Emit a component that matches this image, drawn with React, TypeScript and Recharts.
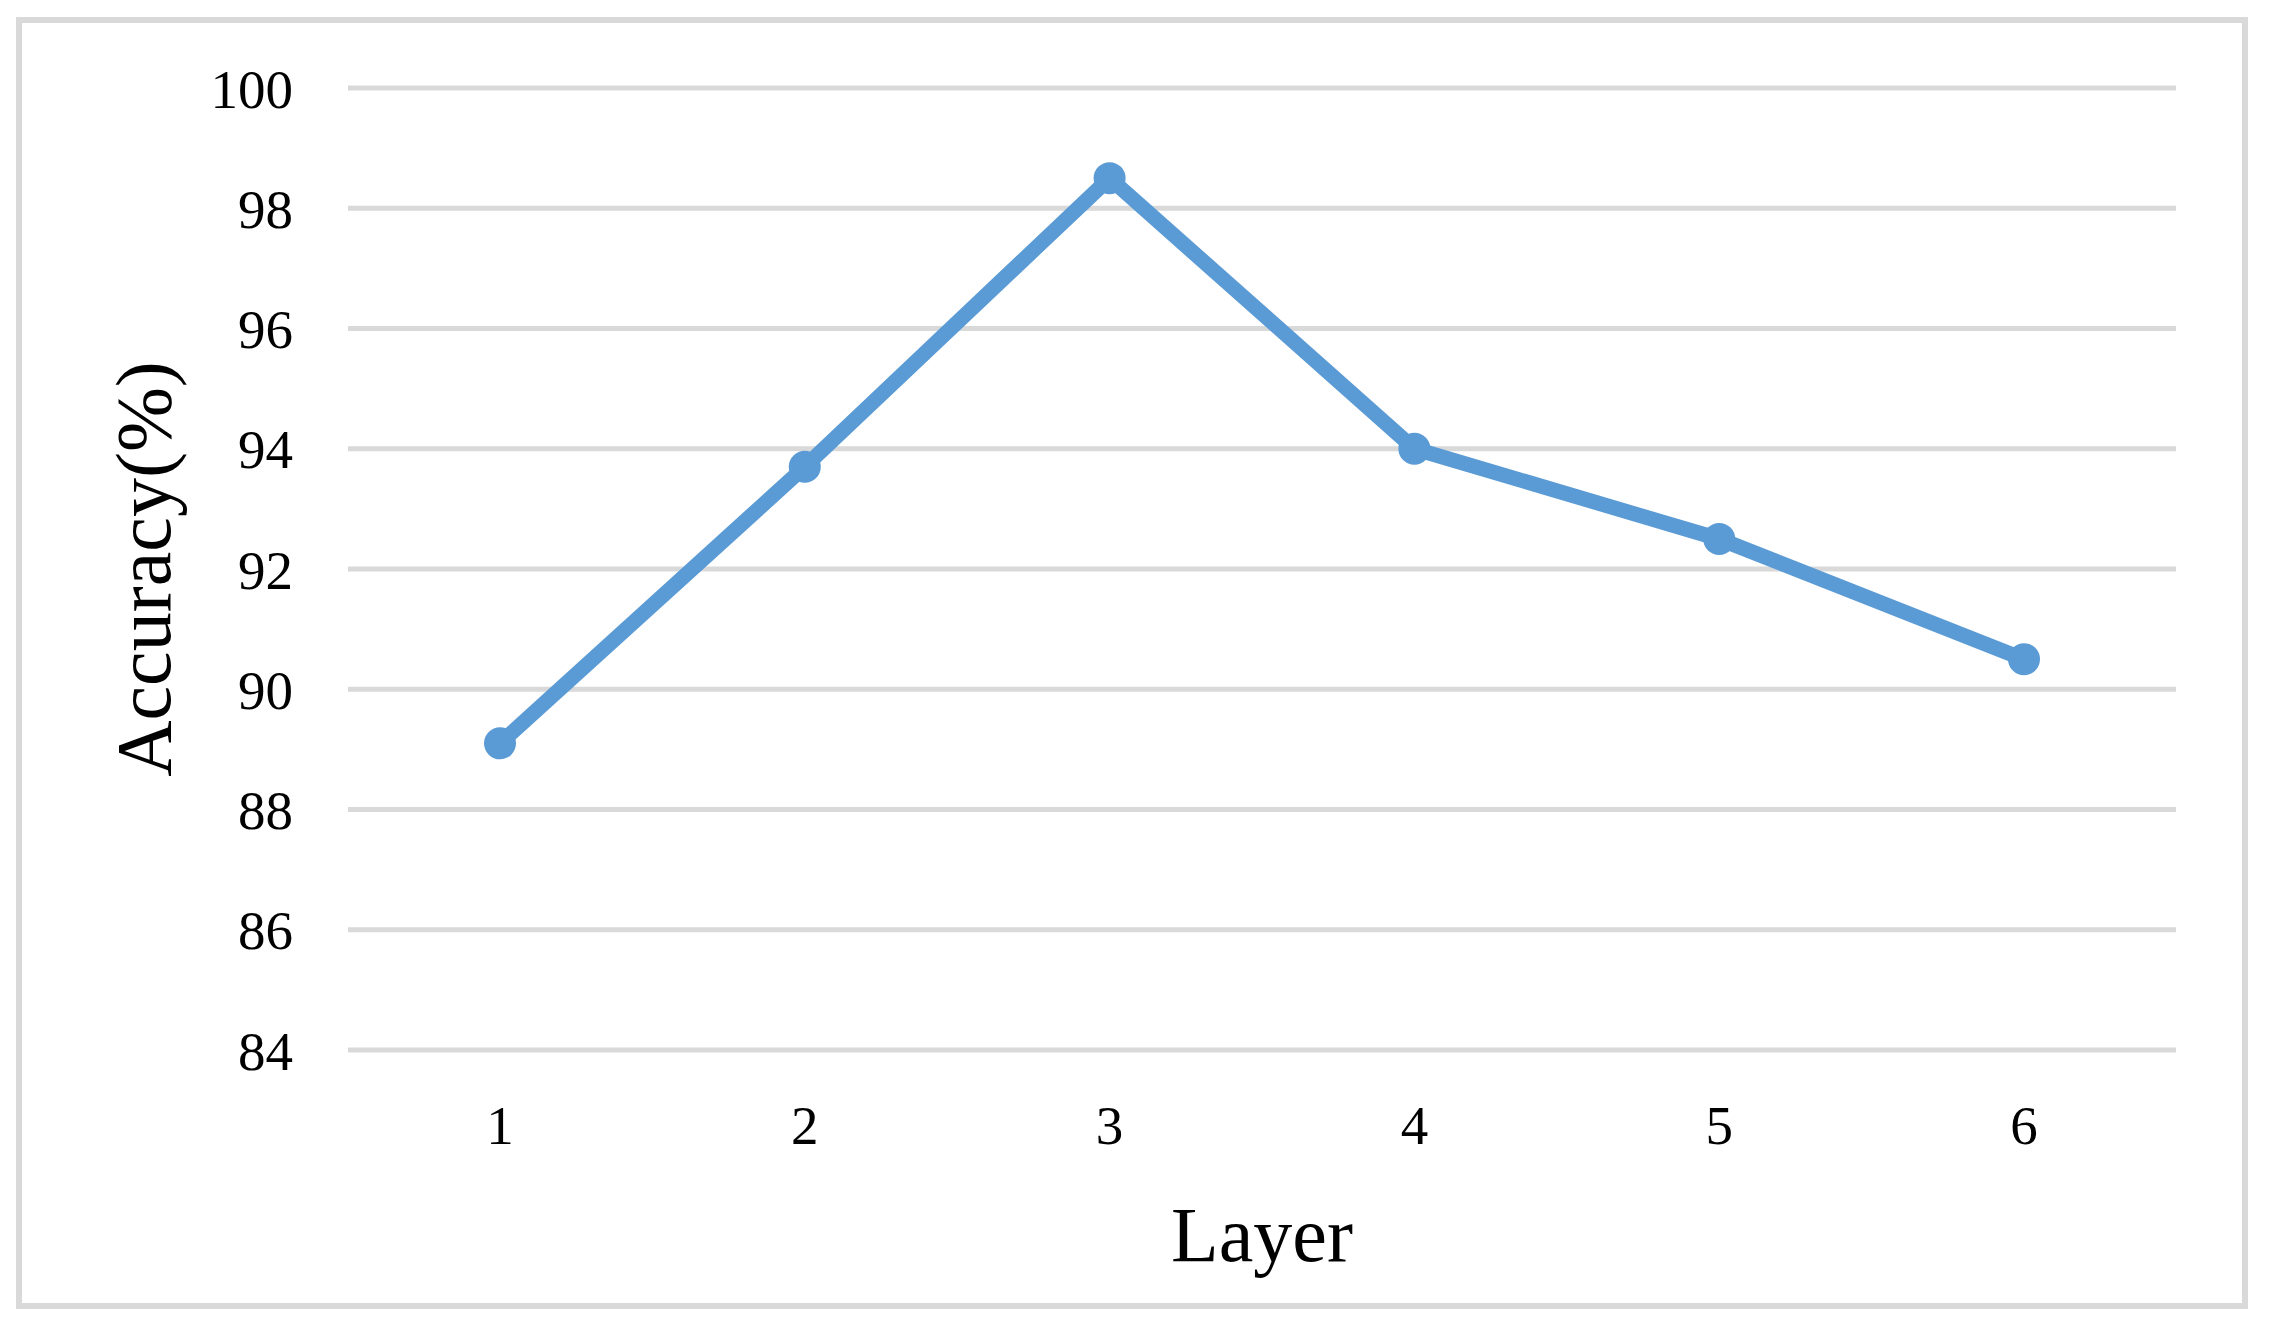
import React from 'react';
import {
  LineChart,
  Line,
  XAxis,
  YAxis,
  CartesianGrid,
} from 'recharts';

const layers = ['1', '2', '3', '4', '5', '6'];
const accuracy = [89.1, 93.7, 98.5, 94.0, 92.5, 90.5];
const yTicks = [84, 86, 88, 90, 92, 94, 96, 98, 100];

const data = layers.map((layer, i) => ({ layer, accuracy: accuracy[i] }));

const FONT = '"Liberation Serif", "DejaVu Serif", serif';
const BLUE = '#5b9bd5';
const GRID = '#d9d9d9';

const App: React.FC = () => {
  return (
    <div style={{ position: 'absolute', left: 0, top: 0, width: 2275, height: 1328, background: '#fff' }}>
      <div
        style={{
          position: 'absolute',
          left: 16,
          top: 17,
          width: 2232,
          height: 1292,
          border: `6px solid ${GRID}`,
          boxSizing: 'border-box',
        }}
      />
      <div style={{ position: 'absolute', left: 0, top: 0 }}>
        <LineChart
          width={2275}
          height={1328}
          data={data}
          margin={{ top: 88, right: 99, left: 0, bottom: 0 }}
        >
          <CartesianGrid vertical={false} stroke={GRID} strokeWidth={5} />
          <XAxis
            dataKey="layer"
            height={278}
            padding={{ left: 152, right: 152 }}
            axisLine={false}
            tickLine={false}
            tickSize={0}
            tickMargin={55}
            tick={{ fontSize: 55, fontFamily: FONT, fill: '#000' }}
            label={{
              value: 'Layer',
              position: 'center',
              dy: 44,
              style: { fontSize: 78, fontFamily: FONT, fill: '#000' },
            }}
          />
          <YAxis
            width={348}
            domain={[84, 100]}
            ticks={yTicks}
            interval={0}
            axisLine={false}
            tickLine={false}
            tickSize={0}
            tickMargin={55}
            tick={{ fontSize: 55, fontFamily: FONT, fill: '#000' }}
            label={{
              value: 'Accuracy(%)',
              angle: -90,
              position: 'center',
              dx: -32,
              style: { fontSize: 78, fontFamily: FONT, fill: '#000' },
            }}
          />
          <Line
            type="linear"
            dataKey="accuracy"
            stroke={BLUE}
            strokeWidth={15}
            dot={{ r: 16, fill: BLUE, stroke: 'none' }}
            activeDot={false}
            isAnimationActive={false}
          />
        </LineChart>
      </div>
    </div>
  );
};

export default App;
